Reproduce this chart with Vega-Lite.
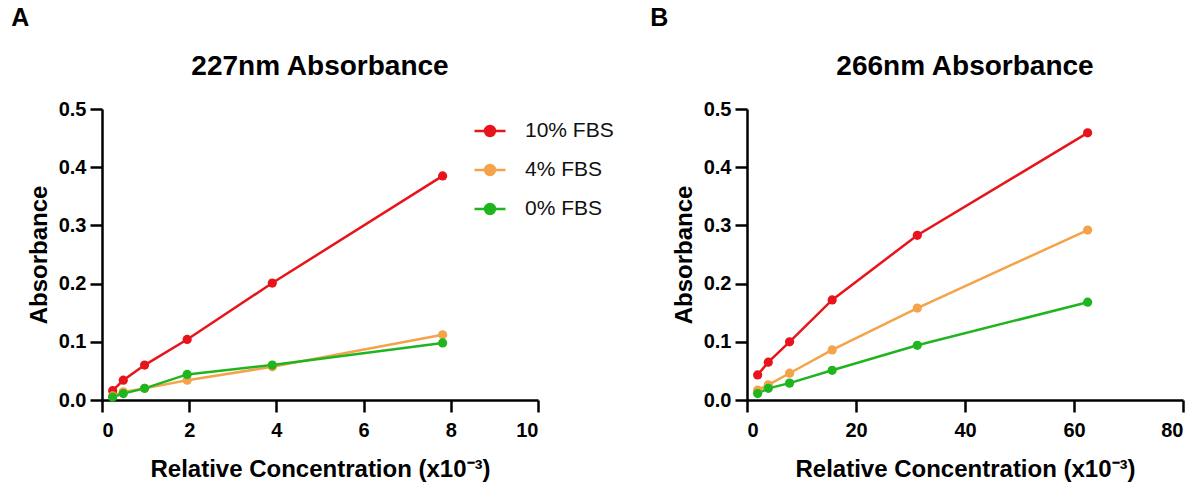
{
  "$schema": "https://vega.github.io/schema/vega-lite/v6.json",
  "padding": {"left": 11, "top": 6, "right": 5, "bottom": 5},
  "background": "white",
  "config": {
    "font": "Liberation Sans",
    "view": {"stroke": null},
    "axis": {
      "grid": false,
      "domainColor": "black",
      "domainWidth": 2.5,
      "tickColor": "black",
      "tickWidth": 2.5,
      "tickSize": 12,
      "labelFont": "Liberation Sans",
      "labelFontWeight": "bold",
      "labelFontSize": 20,
      "labelColor": "black",
      "titleFont": "Liberation Sans",
      "titleFontWeight": "bold",
      "titleFontSize": 24,
      "titleColor": "black"
    },
    "axisX": {"labelPadding": 8, "titlePadding": 17},
    "axisY": {"labelPadding": 4, "titlePadding": 7},
    "title": {"font": "Liberation Sans", "color": "black", "fontWeight": "bold"}
  },
  "datasets": {
    "d": [
      {"panel": "A", "conc": 0.244, "abs": 0.016, "series": "10% FBS"},
      {"panel": "A", "conc": 0.488, "abs": 0.034, "series": "10% FBS"},
      {"panel": "A", "conc": 0.977, "abs": 0.060, "series": "10% FBS"},
      {"panel": "A", "conc": 1.953, "abs": 0.104, "series": "10% FBS"},
      {"panel": "A", "conc": 3.906, "abs": 0.201, "series": "10% FBS"},
      {"panel": "A", "conc": 7.8125, "abs": 0.385, "series": "10% FBS"},
      {"panel": "A", "conc": 0.244, "abs": 0.007, "series": "4% FBS"},
      {"panel": "A", "conc": 0.488, "abs": 0.014, "series": "4% FBS"},
      {"panel": "A", "conc": 0.977, "abs": 0.020, "series": "4% FBS"},
      {"panel": "A", "conc": 1.953, "abs": 0.034, "series": "4% FBS"},
      {"panel": "A", "conc": 3.906, "abs": 0.057, "series": "4% FBS"},
      {"panel": "A", "conc": 7.8125, "abs": 0.112, "series": "4% FBS"},
      {"panel": "A", "conc": 0.244, "abs": 0.005, "series": "0% FBS"},
      {"panel": "A", "conc": 0.488, "abs": 0.011, "series": "0% FBS"},
      {"panel": "A", "conc": 0.977, "abs": 0.020, "series": "0% FBS"},
      {"panel": "A", "conc": 1.953, "abs": 0.044, "series": "0% FBS"},
      {"panel": "A", "conc": 3.906, "abs": 0.060, "series": "0% FBS"},
      {"panel": "A", "conc": 7.8125, "abs": 0.098, "series": "0% FBS"},
      {"panel": "B", "conc": 1.953, "abs": 0.043, "series": "10% FBS"},
      {"panel": "B", "conc": 3.906, "abs": 0.065, "series": "10% FBS"},
      {"panel": "B", "conc": 7.8125, "abs": 0.100, "series": "10% FBS"},
      {"panel": "B", "conc": 15.625, "abs": 0.172, "series": "10% FBS"},
      {"panel": "B", "conc": 31.25, "abs": 0.283, "series": "10% FBS"},
      {"panel": "B", "conc": 62.5, "abs": 0.459, "series": "10% FBS"},
      {"panel": "B", "conc": 1.953, "abs": 0.017, "series": "4% FBS"},
      {"panel": "B", "conc": 3.906, "abs": 0.026, "series": "4% FBS"},
      {"panel": "B", "conc": 7.8125, "abs": 0.046, "series": "4% FBS"},
      {"panel": "B", "conc": 15.625, "abs": 0.086, "series": "4% FBS"},
      {"panel": "B", "conc": 31.25, "abs": 0.158, "series": "4% FBS"},
      {"panel": "B", "conc": 62.5, "abs": 0.292, "series": "4% FBS"},
      {"panel": "B", "conc": 1.953, "abs": 0.011, "series": "0% FBS"},
      {"panel": "B", "conc": 3.906, "abs": 0.020, "series": "0% FBS"},
      {"panel": "B", "conc": 7.8125, "abs": 0.029, "series": "0% FBS"},
      {"panel": "B", "conc": 15.625, "abs": 0.051, "series": "0% FBS"},
      {"panel": "B", "conc": 31.25, "abs": 0.094, "series": "0% FBS"},
      {"panel": "B", "conc": 62.5, "abs": 0.168, "series": "0% FBS"}
    ]
  },
  "spacing": 110,
  "hconcat": [
    {
      "title": {"text": "A", "anchor": "start", "fontSize": 25, "frame": "bounds", "offset": 22, "dx": -16},
      "vconcat": [
        {
          "width": 436,
          "height": 291,
          "title": {"text": "227nm Absorbance", "fontSize": 28, "offset": 18, "anchor": "middle"},
          "data": {"name": "d"},
          "transform": [{"filter": "datum.panel == 'A'"}],
          "encoding": {
            "x": {"field": "conc", "type": "quantitative", "scale": {"domain": [0, 10], "nice": false},
                  "axis": {"values": [0, 2, 4, 6, 8, 10], "format": "d", "title": "Relative Concentration (x10⁻³)"}},
            "y": {"field": "abs", "type": "quantitative", "scale": {"domain": [0, 0.5], "nice": false},
                  "axis": {"values": [0, 0.1, 0.2, 0.3, 0.4, 0.5], "format": ".1f", "title": "Absorbance"}},
            "color": {"field": "series", "type": "nominal",
                      "scale": {"domain": ["10% FBS", "4% FBS", "0% FBS"], "range": ["#e8141c", "#f5a34a", "#1fb51f"]},
                      "legend": {"title": null, "orient": "none", "legendX": 371, "legendY": 5,
                                 "symbolType": "M-1,0H1M-0.32,0A0.32,0.32 0 1,1 0.32,0A0.32,0.32 0 1,1 -0.32,0Z",
                                 "symbolSize": 961, "symbolStrokeWidth": 2.5, "labelFontSize": 21, "labelFont": "Liberation Sans",
                                 "labelColor": "#111", "labelOffset": 18, "rowPadding": 12}}
          },
          "layer": [
            {"mark": {"type": "line", "strokeWidth": 2.5}},
            {"mark": {"type": "point", "filled": true, "size": 85, "opacity": 1}}
          ]
        }
      ]
    },
    {
      "title": {"text": "B", "anchor": "start", "fontSize": 25, "frame": "bounds", "offset": 22, "dx": -22},
      "vconcat": [
        {
          "width": 436,
          "height": 291,
          "title": {"text": "266nm Absorbance", "fontSize": 28, "offset": 18, "anchor": "middle"},
          "data": {"name": "d"},
          "transform": [{"filter": "datum.panel == 'B'"}],
          "encoding": {
            "x": {"field": "conc", "type": "quantitative", "scale": {"domain": [0, 80], "nice": false},
                  "axis": {"values": [0, 20, 40, 60, 80], "format": "d", "title": "Relative Concentration (x10⁻³)"}},
            "y": {"field": "abs", "type": "quantitative", "scale": {"domain": [0, 0.5], "nice": false},
                  "axis": {"values": [0, 0.1, 0.2, 0.3, 0.4, 0.5], "format": ".1f", "title": "Absorbance"}},
            "color": {"field": "series", "type": "nominal",
                      "scale": {"domain": ["10% FBS", "4% FBS", "0% FBS"], "range": ["#e8141c", "#f5a34a", "#1fb51f"]},
                      "legend": {"title": null, "orient": "none", "legendX": 371, "legendY": 5,
                                 "symbolType": "M-1,0H1M-0.32,0A0.32,0.32 0 1,1 0.32,0A0.32,0.32 0 1,1 -0.32,0Z",
                                 "symbolSize": 961, "symbolStrokeWidth": 2.5, "labelFontSize": 21, "labelFont": "Liberation Sans",
                                 "labelColor": "#111", "labelOffset": 18, "rowPadding": 12}}
          },
          "layer": [
            {"mark": {"type": "line", "strokeWidth": 2.5}},
            {"mark": {"type": "point", "filled": true, "size": 85, "opacity": 1}}
          ]
        }
      ]
    }
  ]
}
